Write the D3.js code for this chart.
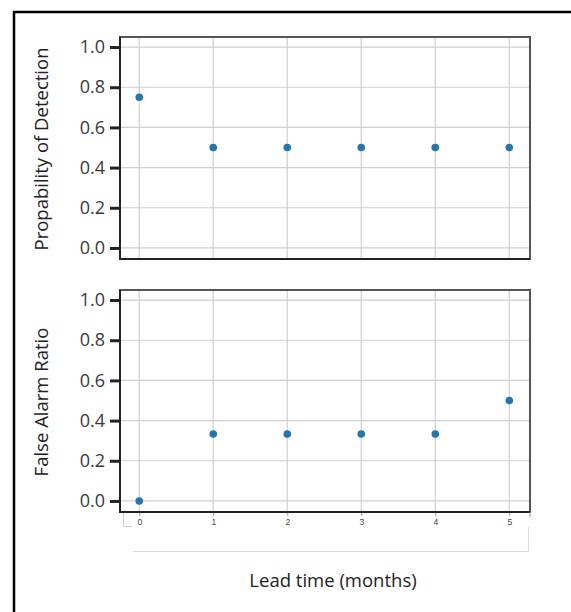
<!DOCTYPE html>
<html><head><meta charset="utf-8">
<script src="https://cdn.jsdelivr.net/npm/d3@7"></script>
<style>
html,body{margin:0;padding:0;background:#fff;}
svg{display:block;font-family:"Open Sans",sans-serif;}
</style></head>
<body><svg id="c" width="571" height="612"></svg>
<script>
const leadTimes = [0, 1, 2, 3, 4, 5];
const pod = [0.75, 0.5, 0.5, 0.5, 0.5, 0.5];
const far = [0, 0.333, 0.333, 0.333, 0.333, 0.5];
const yTicks = [0, 0.2, 0.4, 0.6, 0.8, 1.0];
const xTickLabels = ["0", "1", "2", "3", "4", "5"];
const panelLabels = ["Propability of Detection", "False Alarm Ratio"];
const xTitle = "Lead time (months)";

const svg = d3.select("#c");
// outer frame
svg.append("path").attr("d", "M14,612 V12 H571").attr("fill", "none")
  .attr("stroke", "#000").attr("stroke-width", 2.5);

const left = 120, right = 530;
const x = d3.scaleLinear().domain([-0.26, 5.28]).range([left, right]);
const panels = [{top: 37, bottom: 259, data: pod}, {top: 290, bottom: 512, data: far}];

panels.forEach((p, i) => {
  const y = d3.scaleLinear().domain([-0.055, 1.05]).range([p.bottom, p.top]);
  const g = svg.append("g");
  // grid
  g.selectAll("line.hg").data(yTicks).join("line")
    .attr("x1", left).attr("x2", right).attr("y1", d => y(d)).attr("y2", d => y(d))
    .attr("stroke", "#d0d0d0").attr("stroke-width", 1.2);
  g.selectAll("line.vg").data(leadTimes).join("line")
    .attr("x1", d => x(d)).attr("x2", d => x(d)).attr("y1", p.top).attr("y2", p.bottom)
    .attr("stroke", "#d0d0d0").attr("stroke-width", 1.2);
  // box
  g.append("rect").attr("x", left).attr("y", p.top).attr("width", right - left).attr("height", p.bottom - p.top)
    .attr("fill", "none").attr("stroke", "#555").attr("stroke-width", 2);
  g.append("path").attr("d", `M${left},${p.top} V${p.bottom} H${right}`).attr("fill", "none")
    .attr("stroke", "#222").attr("stroke-width", 2);
  // y axis
  const ya = g.append("g").attr("transform", `translate(${left - 1},0)`)
    .call(d3.axisLeft(y).tickValues(yTicks).tickFormat(d3.format(".1f")).tickSize(9).tickPadding(5));
  ya.select(".domain").remove();
  ya.selectAll(".tick line").attr("stroke", "#222").attr("stroke-width", 3);
  ya.selectAll(".tick text").attr("font-size", 18).attr("fill", "#3a3a3a")
    .attr("font-family", "Open Sans, sans-serif");
  // y title
  g.append("text").attr("transform", `translate(48,${(p.top + p.bottom) / 2 + 1}) rotate(-90)`)
    .attr("text-anchor", "middle").attr("font-size", 18.5).attr("fill", "#222").text(panelLabels[i]);
  // points
  g.selectAll("circle").data(p.data).join("circle")
    .attr("cx", (d, j) => x(leadTimes[j])).attr("cy", d => y(d)).attr("r", 3.8)
    .attr("fill", "#1f77b4");
  if (i === 1) {
    const xa = g.append("g").attr("transform", `translate(0,${p.bottom + 1})`)
      .call(d3.axisBottom(x).tickValues(leadTimes).tickFormat((d, j) => xTickLabels[j]).tickSize(3).tickPadding(3));
    xa.select(".domain").remove();
    xa.selectAll(".tick line").attr("stroke", "#999");
    xa.selectAll(".tick text").attr("font-size", 8.5).attr("fill", "#444");
    // light frame lines under axis
    g.append("path").attr("d", `M123.5,${p.bottom + 1} V${p.bottom + 14.5} H132`).attr("fill", "none")
      .attr("stroke", "#ccc").attr("stroke-width", 1);
    g.append("path").attr("d", `M133,551.5 H528.5 V${p.bottom + 15}`).attr("fill", "none")
      .attr("stroke", "#ddd").attr("stroke-width", 1);
    g.append("line").attr("x1", right).attr("x2", right).attr("y1", p.bottom).attr("y2", p.bottom + 5)
      .attr("stroke", "#999").attr("stroke-width", 1);
  }
});

svg.append("text").attr("x", 333).attr("y", 587).attr("text-anchor", "middle")
  .attr("font-size", 18.5).attr("fill", "#222").text(xTitle);
</script></body></html>
